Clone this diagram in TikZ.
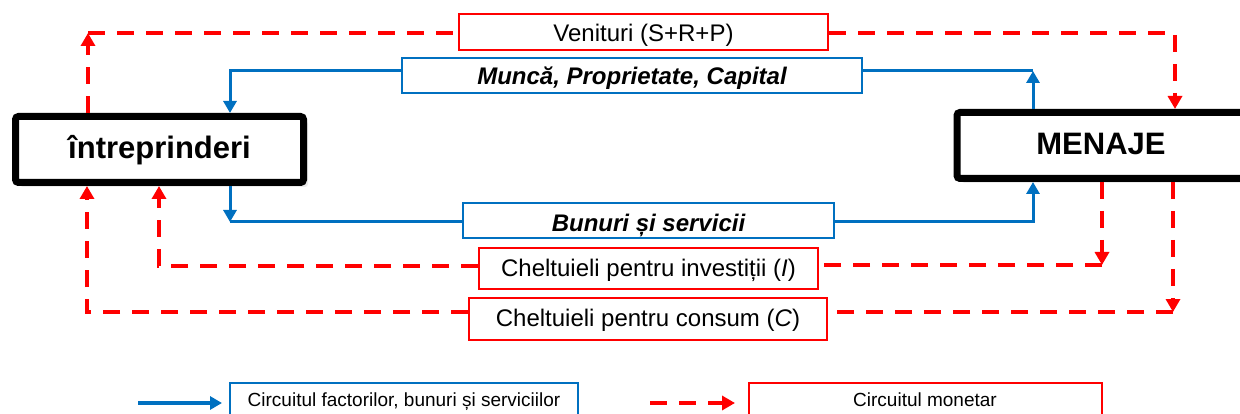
\documentclass[tikz,border=0pt]{standalone}
\usepackage{fontspec}
\setmainfont{Liberation Sans}
\usetikzlibrary{arrows.meta,shadows}
\definecolor{cblue}{RGB}{0,112,192}
\definecolor{cred}{RGB}{255,0,0}
\begin{document}
\begin{tikzpicture}[x=1pt,y=-1pt,
  tb/.style={text depth=2pt, text height=#1},
  bigbox/.style={draw=black, line width=7pt, rounded corners=3pt, fill=white,
    minimum width=288pt, minimum height=66pt, inner sep=0pt, tb=21pt,
    drop shadow={shadow xshift=4.5pt,shadow yshift=-4.5pt,fill=black!15},
    font=\fontsize{31}{36}\selectfont\bfseries},
  bluebox/.style={draw=cblue, line width=2pt, fill=white, inner sep=0pt,
    font=\fontsize{24}{28}\selectfont\bfseries\itshape},
  redbox/.style={draw=cred, line width=2pt, fill=white, inner sep=0pt,
    font=\fontsize{24}{28}\selectfont},
  legbox/.style={line width=2pt, fill=white, inner sep=0pt, minimum height=42pt},
  legtext/.style={inner sep=0pt, anchor=base, font=\fontsize{19}{22}\selectfont},
  blueflow/.style={draw=cblue, line width=3pt},
  redflow/.style={draw=cred, line width=4pt, dash pattern=on 17pt off 12pt},
  bluetip/.style={-{Triangle[width=13pt,length=12pt]}},
  redtip/.style={-{Triangle[width=14pt,length=13pt]}}
]
\clip (0,0) rectangle (1240,414);
\fill[white] (0,0) rectangle (1240,414);

% nodes
\node[bigbox] (intr) at (159.5,149.5) {întreprinderi};
\node[bigbox] (men) at (1101,145.5) {MENAJE};
\node[redbox, tb=22pt, minimum width=369pt, minimum height=36pt] (ven) at (643.5,32) {Venituri (S+R+P)};
\node[bluebox, tb=21pt, minimum width=460pt, minimum height=35pt] (mun) at (632,75.5) {Muncă, Proprietate, Capital};
\node[bluebox, tb=25pt, minimum width=371pt, minimum height=35pt] (bun) at (648.5,220.5) {Bunuri și servicii};
\node[redbox, tb=18pt, minimum width=339pt, minimum height=41pt] (inv) at (648.5,268.5) {Cheltuieli pentru investiții (\textit{I})};
\node[redbox, tb=17pt, minimum width=358pt, minimum height=42pt] (con) at (648,319) {Cheltuieli pentru consum (\textit{C})};

% corner coordinates
\coordinate (bTR) at (1033,71);
\coordinate (bTL) at (230,71);
\coordinate (bBL) at (230,222);
\coordinate (bBR) at (1033,222);
\coordinate (rTL) at (88,33);
\coordinate (rTR) at (1175,33);
\coordinate (rIL) at (159,266);
\coordinate (rIR) at (1102,265);
\coordinate (rCL) at (87,312);
\coordinate (rCR) at (1173,312);

% blue circuit
\draw[blueflow, bluetip] (bTR |- men.north) -- (bTR);
\draw[blueflow] (bTR) -- (mun.east |- bTR);
\draw[blueflow, bluetip] (mun.west |- bTL) -- (bTL) -- (bTL |- intr.north);
\draw[blueflow, bluetip] (bBL |- intr.south) -- (bBL);
\draw[blueflow] (bBL) -- (bun.west |- bBL);
\draw[blueflow, bluetip] (bun.east |- bBR) -- (bBR) -- (bBR |- men.south);

% red circuit
\draw[redflow, redtip] (rTL |- intr.north) -- (rTL);
\draw[redflow] (rTL) -- (ven.west |- rTL);
\draw[redflow, redtip] (ven.east |- rTR) -- (rTR) -- (rTR |- men.north);
\draw[redflow, redtip] (rIR |- men.south) -- (rIR);
\draw[redflow] (rIR) -- (inv.east |- rIR);
\draw[redflow, redtip] (inv.west |- rIL) -- (rIL) -- (rIL |- intr.south);
\draw[redflow, redtip] (rCR |- men.south) -- (rCR);
\draw[redflow] (rCR) -- (con.east |- rCR);
\draw[redflow, redtip] (con.west |- rCL) -- (rCL) -- (rCL |- intr.south);

% legend
\node[legbox, draw=cblue, minimum width=348pt] (leg1) at (404,404) {};
\node[legtext] (leg1t) at (404,406.5) {Circuitul factorilor, bunuri și serviciilor};
\node[legbox, draw=cred, minimum width=353pt] (leg2) at (925.5,403.5) {};
\node[legtext] (leg2t) at (925,406.5) {Circuitul monetar};
\coordinate (la1) at (138,403);
\coordinate (la2) at (222,403);
\coordinate (lr1) at (650,403);
\coordinate (lr2) at (735,403);
\draw[blueflow, line width=3.5pt, bluetip] (la1) -- (la2);
\draw[redflow, redtip] (lr1) -- (lr2);
\end{tikzpicture}
\end{document}
